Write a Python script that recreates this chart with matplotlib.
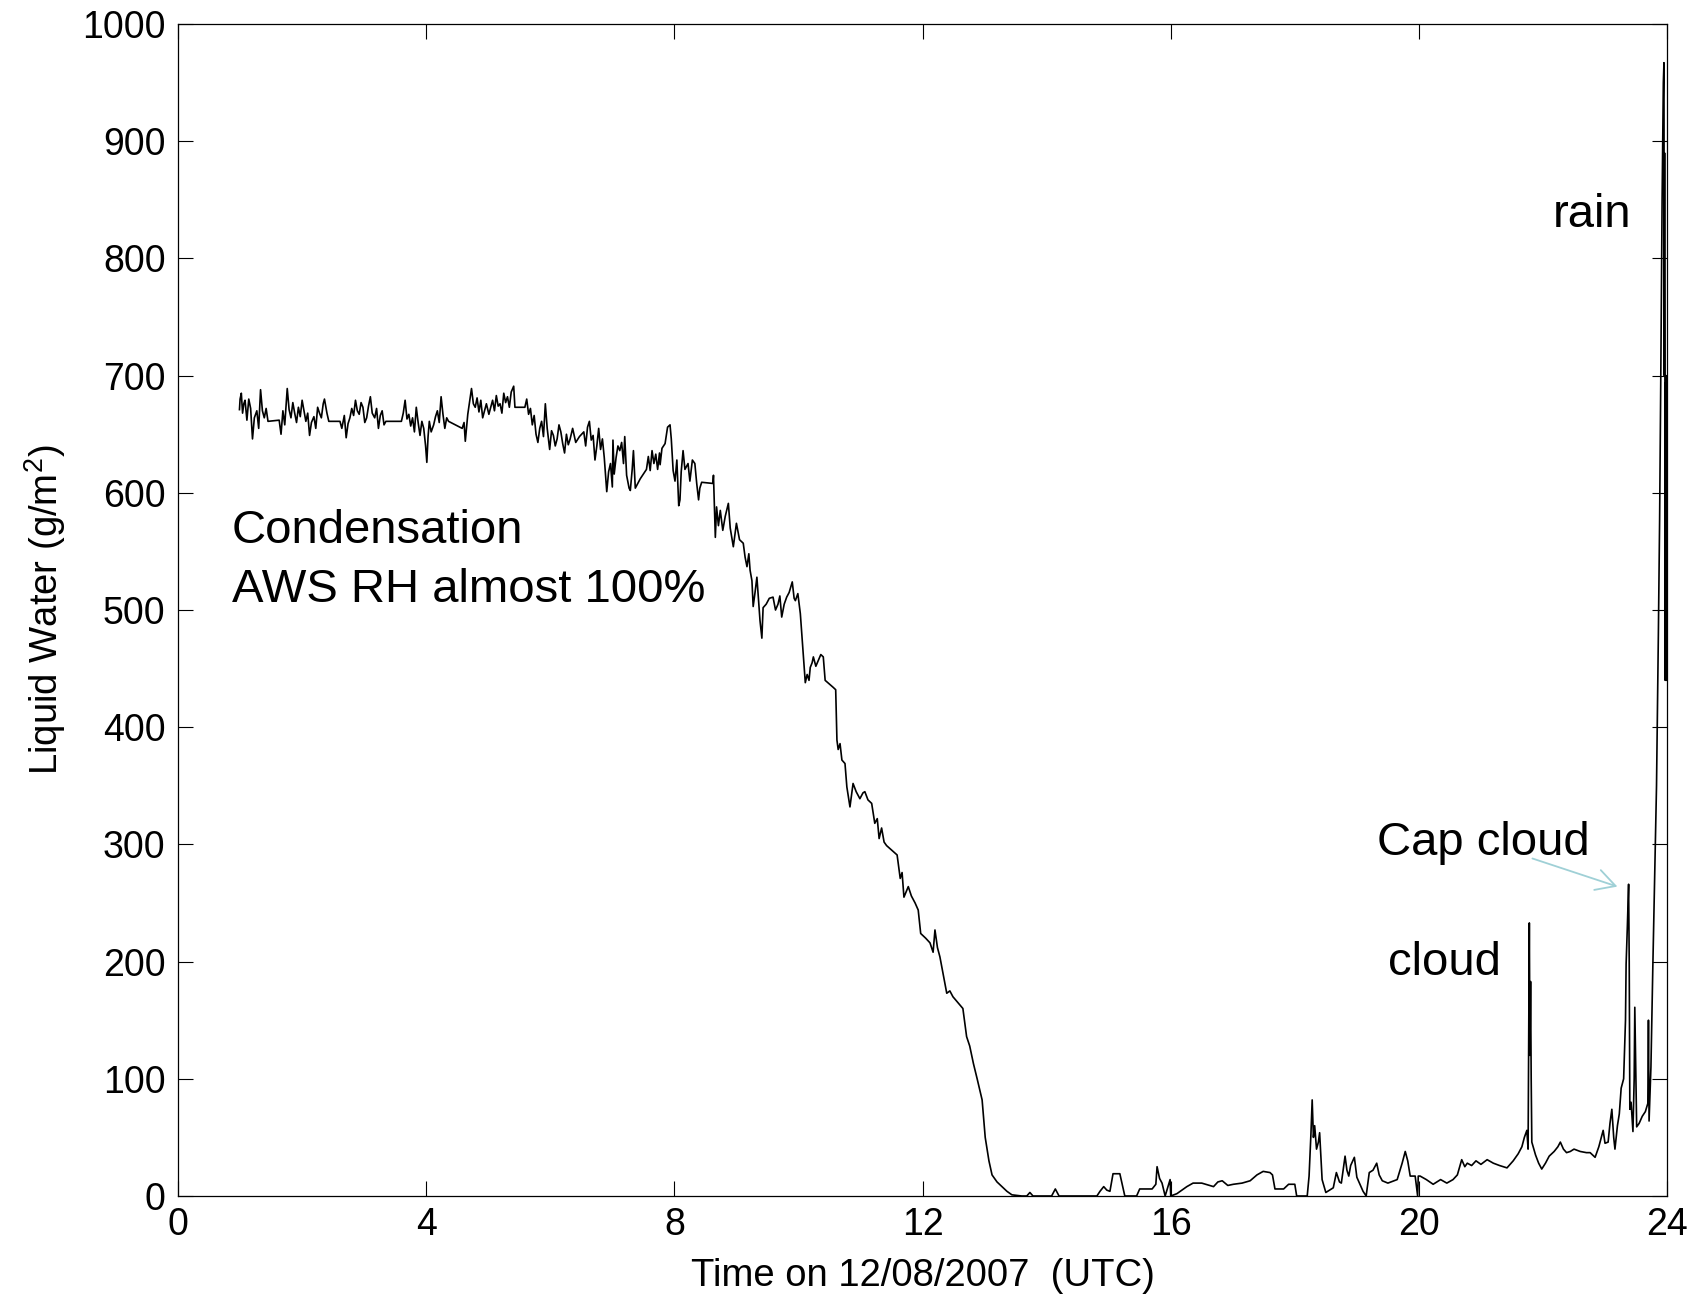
import matplotlib
matplotlib.use('Agg')
import matplotlib.pyplot as plt

plt.rcParams['font.family'] = ['Liberation Sans', 'DejaVu Sans']
plt.rcParams['mathtext.fontset'] = 'custom'
plt.rcParams['mathtext.rm'] = 'Liberation Sans'
plt.rcParams['mathtext.it'] = 'Liberation Sans'

# Liquid water, 12/08/2007 (hours UTC, g/m2)
hours = [
    0.99, 1.00, 1.02, 1.04, 1.06, 1.08, 1.11, 1.14, 1.17, 1.20, 1.23, 1.27, 1.30, 1.33, 1.36, 1.39, 1.42, 1.45,
    1.63, 1.66, 1.69, 1.72, 1.76, 1.79, 1.82, 1.85, 1.88, 1.91, 1.94, 1.97, 2.00, 2.03, 2.06, 2.09, 2.12, 2.15,
    2.19, 2.22, 2.25, 2.28, 2.31, 2.34, 2.36, 2.40, 2.43, 2.61, 2.64, 2.68, 2.71, 2.74, 2.77, 2.80, 2.83, 2.86,
    2.89, 2.92, 2.95, 2.98, 3.01, 3.04, 3.07, 3.10, 3.13, 3.17, 3.20, 3.23, 3.26, 3.29, 3.32, 3.35, 3.60, 3.63,
    3.66, 3.69, 3.72, 3.75, 3.78, 3.81, 3.84, 3.87, 3.90, 3.93, 3.96, 3.99, 4.01, 4.03, 4.05, 4.08, 4.12, 4.15,
    4.18, 4.21, 4.24, 4.27, 4.30, 4.33, 4.36, 4.58, 4.61, 4.63, 4.65, 4.67, 4.70, 4.73, 4.76, 4.79, 4.82, 4.85,
    4.88, 4.91, 4.94, 4.97, 5.01, 5.04, 5.07, 5.10, 5.13, 5.16, 5.19, 5.22, 5.25, 5.28, 5.31, 5.34, 5.37, 5.41,
    5.43, 5.59, 5.62, 5.65, 5.68, 5.71, 5.74, 5.77, 5.80, 5.83, 5.86, 5.89, 5.92, 5.95, 5.99, 6.02, 6.05, 6.08,
    6.11, 6.14, 6.17, 6.20, 6.23, 6.26, 6.29, 6.32, 6.36, 6.41, 6.47, 6.54, 6.57, 6.60, 6.63, 6.66, 6.69, 6.72,
    6.75, 6.78, 6.81, 6.84, 6.87, 6.91, 6.94, 6.97, 7.00, 7.01, 7.03, 7.06, 7.09, 7.12, 7.15, 7.18, 7.20, 7.23,
    7.27, 7.29, 7.32, 7.34, 7.37, 7.41, 7.45, 7.50, 7.55, 7.58, 7.61, 7.64, 7.67, 7.70, 7.73, 7.76, 7.77, 7.80,
    7.85, 7.89, 7.93, 7.95, 7.98, 8.01, 8.04, 8.07, 8.09, 8.11, 8.14, 8.17, 8.22, 8.25, 8.29, 8.33, 8.36, 8.39,
    8.41, 8.44, 8.62, 8.63, 8.66, 8.68, 8.71, 8.74, 8.78, 8.82, 8.87, 8.90, 8.95, 9.00, 9.05, 9.11, 9.14, 9.17,
    9.20, 9.22, 9.25, 9.27, 9.30, 9.33, 9.36, 9.38, 9.41, 9.43, 9.48, 9.53, 9.59, 9.63, 9.67, 9.70, 9.73, 9.77,
    9.81, 9.85, 9.90, 9.93, 9.95, 9.99, 10.03, 10.07, 10.11, 10.14, 10.17, 10.19, 10.22, 10.24, 10.28, 10.32,
    10.36, 10.40, 10.43, 10.56, 10.60, 10.62, 10.64, 10.67, 10.70, 10.75, 10.78, 10.83, 10.88, 10.93, 10.99,
    11.04, 11.07, 11.12, 11.18, 11.23, 11.27, 11.30, 11.34, 11.38, 11.42, 11.59, 11.64, 11.67, 11.70, 11.77,
    11.82, 11.88, 11.93, 11.97, 12.05, 12.12, 12.17, 12.20, 12.24, 12.28, 12.33, 12.39, 12.44, 12.49, 12.65,
    12.71, 12.76, 12.82, 12.88, 12.96, 13.01, 13.07, 13.12, 13.20, 13.28, 13.36, 13.44, 13.60, 13.68, 13.73,
    13.78, 14.08, 14.14, 14.20, 14.81, 14.86, 14.92, 14.97, 15.02, 15.07, 15.18, 15.26, 15.45, 15.50, 15.70,
    15.76, 15.78, 15.82, 15.86, 15.91, 15.99, 16.00, 16.10, 16.18, 16.26, 16.36, 16.50, 16.69, 16.76, 16.83,
    16.92, 17.01, 17.15, 17.28, 17.39, 17.49, 17.60, 17.64, 17.68, 17.82, 17.90, 18.00, 18.03, 18.20, 18.23,
    18.26, 18.28, 18.30, 18.32, 18.35, 18.38, 18.40, 18.44, 18.50, 18.62, 18.67, 18.72, 18.75, 18.81, 18.84,
    18.87, 18.90, 18.96, 19.00, 19.10, 19.15, 19.20, 19.26, 19.32, 19.36, 19.41, 19.50, 19.65, 19.73, 19.78,
    19.82, 19.86, 19.94, 19.98, 19.99, 20.02, 20.12, 20.23, 20.35, 20.45, 20.55, 20.62, 20.69, 20.74, 20.78,
    20.85, 20.92, 21.00, 21.10, 21.20, 21.30, 21.42, 21.52, 21.60, 21.66, 21.70, 21.74, 21.76, 21.78, 21.79,
    21.80, 21.81, 21.82, 21.88, 21.93, 21.98, 22.04, 22.10, 22.18, 22.24, 22.28, 22.33, 22.38, 22.44, 22.50,
    22.60, 22.70, 22.76, 22.84, 22.90, 22.97, 23.00, 23.05, 23.08, 23.11, 23.14, 23.16, 23.20, 23.23, 23.26,
    23.30, 23.33, 23.34, 23.36, 23.38, 23.39, 23.40, 23.42, 23.45, 23.47, 23.48, 23.50, 23.51, 23.55, 23.60,
    23.65, 23.69, 23.70, 23.71, 23.74, 23.77, 23.80, 23.83, 23.86, 23.88, 23.90, 23.92, 23.94, 23.95, 23.955,
    23.96, 23.965, 23.97, 23.975, 23.98, 23.985, 23.99, 24.0,
]
liquid_water = [
    671, 680, 685, 668, 676, 679, 662, 680, 672, 646, 664, 670, 655, 688, 670, 664, 672, 661,
    662, 650, 670, 658, 689, 671, 664, 677, 668, 660, 673, 665, 679, 670, 661, 668, 649, 660,
    665, 655, 673, 668, 664, 676, 680, 668, 661, 661, 655, 666, 647, 659, 664, 672, 666, 679,
    670, 667, 677, 673, 660, 664, 674, 682, 668, 664, 672, 655, 666, 670, 658, 661, 661, 668,
    679, 663, 667, 657, 664, 652, 673, 660, 649, 661, 655, 640, 626, 648, 661, 652, 658, 665,
    670, 660, 682, 667, 655, 664, 661, 655, 660, 644, 656, 667, 678, 689, 676, 673, 681, 669,
    679, 664, 670, 676, 667, 673, 679, 670, 683, 674, 676, 668, 685, 677, 682, 673, 686, 691,
    673, 673, 680, 667, 672, 658, 666, 650, 643, 655, 661, 648, 676, 655, 637, 653, 649, 640,
    646, 658, 652, 642, 634, 650, 641, 646, 655, 643, 648, 652, 640, 656, 661, 645, 649, 628,
    640, 655, 637, 646, 630, 601, 618, 625, 605, 645, 616, 630, 640, 636, 643, 625, 648, 615,
    604, 602, 620, 636, 604, 608, 612, 616, 620, 631, 619, 636, 625, 633, 620, 634, 624, 638,
    642, 656, 658, 646, 619, 610, 628, 589, 594, 618, 636, 620, 625, 610, 628, 625, 608, 594,
    604, 609, 608, 615, 562, 588, 572, 585, 568, 580, 591, 570, 554, 574, 560, 557, 545, 537,
    548, 534, 525, 503, 515, 528, 505, 491, 476, 502, 505, 510, 511, 500, 505, 512, 494, 505,
    511, 515, 524, 510, 508, 514, 497, 468, 438, 445, 440, 451, 455, 460, 452, 457,
    462, 460, 440, 434, 432, 389, 381, 386, 372, 369, 349, 332, 352, 345, 339,
    344, 345, 338, 335, 318, 322, 305, 314, 302, 299, 291, 271, 276, 255, 264,
    256, 250, 244, 224, 220, 216, 208, 227, 212, 204, 190, 173, 175, 170, 160,
    136, 128, 113, 100, 82, 50, 30, 18, 12, 8, 4, 1, 0, 0, 3,
    0, 0, 6, 0, 0, 4, 8, 5, 4, 19, 19, 0, 0, 6, 6,
    10, 25, 15, 11, 0, 14, 0, 2, 5, 8, 11, 11, 8, 12, 13,
    9, 10, 11, 13, 18, 21, 20, 18, 6, 6, 10, 10, 0, 0, 17,
    53, 82, 50, 60, 40, 46, 54, 14, 3, 7, 20, 12, 11, 34, 22,
    17, 26, 33, 16, 4, 0, 20, 22, 28, 18, 13, 11, 14, 28, 38,
    30, 17, 17, 0, 17, 17, 14, 10, 14, 11, 14, 18, 31, 25, 28,
    26, 30, 27, 31, 28, 26, 24, 30, 36, 42, 50, 56, 40, 233, 120,
    183, 100, 46, 35, 28, 23, 28, 34, 38, 42, 46, 40, 37, 38, 40,
    38, 37, 37, 33, 42, 56, 45, 46, 62, 74, 50, 40, 60, 70, 92,
    100, 150, 198, 230, 266, 200, 74, 80, 55, 100, 161, 90, 59, 62, 68,
    72, 79, 150, 64, 110, 194, 270, 350, 480, 577, 707, 850, 950, 967, 700,
    890, 714, 440, 694, 450, 700, 440, 460,
]

x_ticks = [0, 4, 8, 12, 16, 20, 24]
y_ticks = [0, 100, 200, 300, 400, 500, 600, 700, 800, 900, 1000]

fig = plt.figure(figsize=(16.94, 13), dpi=100)
ax = fig.add_axes([0.1051, 0.08, 0.879, 0.9015])

ax.plot(hours, liquid_water, color='black', linewidth=1.2)

ax.set_xlim(0, 24)
ax.set_ylim(0, 1000)
ax.set_xticks(x_ticks)
ax.set_yticks(y_ticks)
ax.tick_params(direction='in', top=True, right=True, length=11, width=0.8,
               labelsize=27)
ax.tick_params(axis='x', pad=8)
ax.tick_params(axis='y', pad=9)
for s in ax.spines.values():
    s.set_linewidth(0.9)

ax.set_xlabel('Time on 12/08/2007  (UTC)', fontsize=27.5, labelpad=11)
ax.set_ylabel('Liquid Water (g/m$^2$)', fontsize=27.5, labelpad=10)

# annotations
ax.text(0.87, 557, 'Condensation', fontsize=34)
ax.text(0.87, 507, 'AWS RH almost 100%', fontsize=34)
ax.text(22.15, 827, 'rain', fontsize=34)
ax.text(19.33, 291, 'Cap cloud', fontsize=34)
ax.text(19.50, 189, 'cloud', fontsize=34)
ax.annotate('', xy=(23.2, 264), xytext=(21.83, 288),
            arrowprops=dict(arrowstyle='->,head_length=0.55,head_width=0.3',
                            color='#9fd0d6', lw=1.3, mutation_scale=25,
                            shrinkA=0, shrinkB=0))

fig.savefig('out.png', dpi=100)
